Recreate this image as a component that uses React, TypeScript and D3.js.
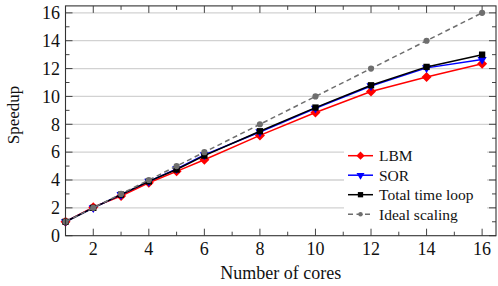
import { scaleLinear, line, symbol, symbolSquare, symbolTriangle, symbolCircle } from "d3";

const cores = [1, 2, 3, 4, 5, 6, 8, 10, 12, 14, 16];
const lbm = [1.0, 2.05, 2.85, 3.8, 4.62, 5.45, 7.2, 8.85, 10.35, 11.4, 12.35];
const sor = [1.0, 2.0, 2.95, 3.9, 4.8, 5.8, 7.45, 9.15, 10.75, 12.05, 12.65];
const total = [1.0, 2.0, 2.95, 3.9, 4.75, 5.75, 7.5, 9.2, 10.8, 12.12, 13.0];
const ideal = [1, 2, 3, 4, 5, 6, 8, 10, 12, 14, 16];

const xTicks = [2, 4, 6, 8, 10, 12, 14, 16];
const xMinor = [3, 5, 7, 9, 11, 13, 15];
const yTicks = [0, 2, 4, 6, 8, 10, 12, 14, 16];
const yMinor = [1, 3, 5, 7, 9, 11, 13, 15];

const seriesNames = ["LBM", "SOR", "Total time loop", "Ideal scaling"];

const W = 498;
const H = 286;
const left = 65.5;
const right = 496;
const top = 5.9;
const bottom = 235.7;
const font = "'Liberation Serif', 'Times New Roman', serif";

const diamondPath = symbol(symbolSquare, 50)()!;
const legendDiamond = symbol(symbolSquare, 34)()!;
const trianglePath = symbol(symbolTriangle, 36)()!;
const legendTriangle = symbol(symbolTriangle, 28)()!;
const squarePath = symbol(symbolSquare, 40)()!;
const legendSquare = symbol(symbolSquare, 28)()!;
const circlePath = symbol(symbolCircle, 30)()!;
const legendCircle = symbol(symbolCircle, 16)()!;

export default function App() {
  const x = scaleLinear([1, 16.5], [left, right]);
  const y = scaleLinear([0, 16.5], [bottom, top]);

  const lineCb = line<number>((_, i) => x(cores[i]), (d) => y(d));

  const series = [
    { name: seriesNames[0], values: lbm, color: "#ff0000", marker: diamondPath, lm: legendDiamond, rot: 45, dash: undefined },
    { name: seriesNames[1], values: sor, color: "#0000ff", marker: trianglePath, lm: legendTriangle, rot: 180, dash: undefined },
    { name: seriesNames[2], values: total, color: "#000000", marker: squarePath, lm: legendSquare, rot: 0, dash: undefined },
    { name: seriesNames[3], values: ideal, color: "#6e6e6e", marker: circlePath, lm: legendCircle, rot: 0, dash: "5,3.5" },
  ];

  const legendX = 348;
  const legendY = 155.7;
  const legendStep = 19.5;

  return (
    <svg width={W} height={H} style={{ position: "absolute", left: 0, top: 0, background: "#fff" }} fontFamily={font}>
      {/* grid */}
      {yTicks.filter((t) => t > 0).map((t) => (
        <line key={"g" + t} x1={left} x2={right} y1={y(t)} y2={y(t)} stroke="#d2d2d2" strokeWidth={1.3} />
      ))}

      {/* ticks, all four sides, pointing in */}
      {xTicks.map((t) => (
        <g key={"xt" + t} stroke="#444" strokeWidth={1}>
          <line x1={x(t)} x2={x(t)} y1={bottom} y2={bottom - 7} />
          <line x1={x(t)} x2={x(t)} y1={top} y2={top + 7} />
        </g>
      ))}
      {xMinor.map((t) => (
        <g key={"xm" + t} stroke="#444" strokeWidth={1}>
          <line x1={x(t)} x2={x(t)} y1={bottom} y2={bottom - 4} />
          <line x1={x(t)} x2={x(t)} y1={top} y2={top + 4} />
        </g>
      ))}
      {yTicks.map((t) => (
        <g key={"yt" + t} stroke="#444" strokeWidth={1}>
          <line x1={left} x2={left + 7} y1={y(t)} y2={y(t)} />
          <line x1={right} x2={right - 7} y1={y(t)} y2={y(t)} />
        </g>
      ))}
      {yMinor.map((t) => (
        <g key={"ym" + t} stroke="#444" strokeWidth={1}>
          <line x1={left} x2={left + 4} y1={y(t)} y2={y(t)} />
          <line x1={right} x2={right - 4} y1={y(t)} y2={y(t)} />
        </g>
      ))}

      {/* tick labels */}
      {xTicks.map((t) => (
        <text key={"xl" + t} x={x(t)} y={255} textAnchor="middle" fontSize={18} fill="#111">
          {t}
        </text>
      ))}
      {yTicks.map((t) => (
        <text key={"yl" + t} x={60} y={y(t)} dy="0.35em" textAnchor="end" fontSize={18} fill="#111">
          {t}
        </text>
      ))}

      <text x={(left + right) / 2} y={278.5} textAnchor="middle" fontSize={18} fill="#111">
        Number of cores
      </text>
      <text transform={`translate(19,115) rotate(-90)`} textAnchor="middle" fontSize={17} fill="#111">
        Speedup
      </text>

      {/* series */}
      {series.map((s) => (
        <g key={s.name}>
          <path d={lineCb(s.values) ?? ""} fill="none" stroke={s.color} strokeWidth={1.5} strokeDasharray={s.dash} />
          {s.values.map((v, i) => (
            <path
              key={i}
              d={s.marker}
              fill={s.color}
              transform={`translate(${x(cores[i])},${y(v)}) rotate(${s.rot})`}
            />
          ))}
        </g>
      ))}

      {/* frame */}
      <rect x={left} y={top} width={right - left} height={bottom - top} fill="none" stroke="#333" strokeWidth={1.1} />

      {/* legend */}
      <rect x={344} y={145} width={143} height={79} fill="#fff" />
      {series.map((s, i) => {
        const ly = legendY + i * legendStep;
        return (
          <g key={"lg" + s.name}>
            <line x1={legendX} x2={legendX + 25} y1={ly} y2={ly} stroke={s.color} strokeWidth={1.5} strokeDasharray={s.dash} />
            <path d={s.lm} fill={s.color} transform={`translate(${legendX + 12.5},${ly}) rotate(${s.rot})`} />
            <text x={379} y={ly} dy="0.35em" fontSize={15.5} fill="#111">
              {s.name}
            </text>
          </g>
        );
      })}
    </svg>
  );
}
